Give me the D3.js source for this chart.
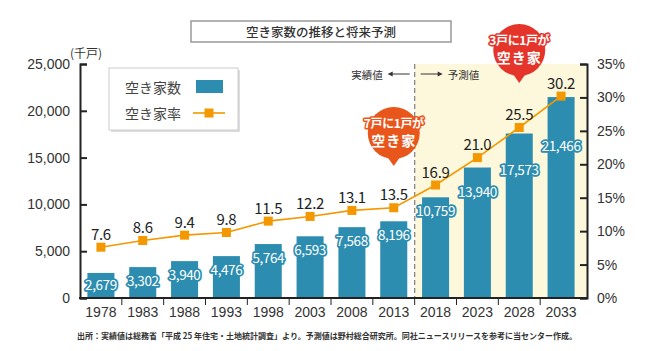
<!DOCTYPE html>
<meta charset="utf-8">
<style>
body { margin: 0; background: #fff; }
svg { font-family: "Noto Sans CJK JP", "Noto Sans", sans-serif; }
.axis path, .axis line { stroke: #222; }
.axis text { fill: #333; font-size: 14px; }
</style>
<body>
<script src="https://d3js.org/d3.v7.min.js"></script>
<script>

var years = ["1978", "1983", "1988", "1993", "1998", "2003", "2008", "2013", "2018", "2023", "2028", "2033"];
var houses = [2679, 3302, 3940, 4476, 5764, 6593, 7568, 8196, 10759, 13940, 17573, 21466];
var rates = [7.6, 8.6, 9.4, 9.8, 11.5, 12.2, 13.1, 13.5, 16.9, 21.0, 25.5, 30.2];
var firstForecast = "2018";
var houseTicks = [0, 5000, 10000, 15000, 20000, 25000];
var rateTicks = [0, 5, 10, 15, 20, 25, 30, 35];

var title = "空き家数の推移と将来予測";
var legendNames = ["空き家数", "空き家率"];
var unitLabel = "(千戸)";
var actualLabel = "実績値";
var forecastLabel = "予測値";
var bubbles = [
  {year: "2013", line1: "7戸に1戸が", line2: "空き家", color: "#e8561c"},
  {year: "2028", line1: "3戸に1戸が", line2: "空き家", color: "#e5352b"}
];
var source = "出所：実績値は総務省「平成 25 年住宅・土地統計調査」より。予測値は野村総合研究所。同社ニュースリリースを参考に当センター作成。";

var width = 651, height = 351;
var plotLeft = 80, plotRight = 582, axisRightX = 587, plotTop = 64, plotBottom = 298;
var barColor = "#2d8db0", lineColor = "#f39800";

var data = years.map((y, i) => ({year: y, houses: houses[i], rate: rates[i]}));

var svg = d3.select("body").append("svg")
    .attr("width", width)
    .attr("height", height);

var x = d3.scaleBand()
    .domain(years)
    .range([plotLeft, plotRight])
    .paddingInner(0.354)
    .paddingOuter(0.177);

var yL = d3.scaleLinear().domain([0, 25000]).range([plotBottom, plotTop]);
var yR = d3.scaleLinear().domain([0, 35]).range([plotBottom, plotTop]);

var step = x.step();
var divX = plotLeft + years.indexOf(firstForecast) * step;

// forecast background
svg.append("rect")
    .attr("x", divX).attr("y", plotTop)
    .attr("width", axisRightX - divX).attr("height", plotBottom - plotTop)
    .attr("fill", "#fdf8dc");

svg.append("line")
    .attr("x1", divX).attr("x2", divX)
    .attr("y1", plotTop).attr("y2", plotBottom)
    .attr("stroke", "#888").attr("stroke-width", 1.3)
    .attr("stroke-dasharray", "5,3");

// title box
svg.append("rect")
    .attr("x", 191).attr("y", 21).attr("width", 260).attr("height", 21)
    .attr("fill", "#fff").attr("stroke", "#999").attr("stroke-width", 1.5);
svg.append("text")
    .attr("x", 321).attr("y", 31.5)
    .attr("text-anchor", "middle").attr("dominant-baseline", "central")
    .attr("font-size", 12.5).attr("font-weight", 500).attr("fill", "#333")
    .text(title);

// bars
svg.selectAll(".bar")
    .data(data)
  .enter().append("rect")
    .attr("class", "bar")
    .attr("x", d => x(d.year))
    .attr("y", d => yL(d.houses))
    .attr("width", x.bandwidth())
    .attr("height", d => plotBottom - yL(d.houses))
    .attr("fill", barColor);

// axes
var axisL = d3.axisLeft(yL).tickValues(houseTicks).tickSize(-7).tickPadding(10)
    .tickFormat(d3.format(","));
var gL = svg.append("g").attr("class", "axis")
    .attr("transform", `translate(${plotLeft},0)`)
    .call(axisL);

var axisR = d3.axisRight(yR).tickValues(rateTicks).tickSize(-7).tickPadding(10)
    .tickFormat(d => d + "%");
var gR = svg.append("g").attr("class", "axis")
    .attr("transform", `translate(${axisRightX},0)`)
    .call(axisR);

var axisB = d3.axisBottom(x).tickSize(0).tickPadding(9);
var gB = svg.append("g").attr("class", "axis")
    .attr("transform", `translate(0,${plotBottom})`)
    .call(axisB);
gB.select(".domain").remove();
gB.selectAll(".boundary")
    .data(d3.range(1, years.length))
  .enter().append("line")
    .attr("x1", i => plotLeft + i * step).attr("x2", i => plotLeft + i * step)
    .attr("y1", 0).attr("y2", 7)
    .attr("stroke", "#222");

[gL, gR].forEach(g => g.select(".domain").attr("stroke-width", 2));
gL.selectAll(".tick line").attr("stroke-width", 2);
gR.selectAll(".tick line").attr("stroke-width", 2);

svg.append("line")
    .attr("x1", plotLeft - 1).attr("x2", axisRightX + 1)
    .attr("y1", plotBottom).attr("y2", plotBottom)
    .attr("stroke", "#222").attr("stroke-width", 2);

svg.append("text")
    .attr("x", 86).attr("y", 52)
    .attr("text-anchor", "middle").attr("dominant-baseline", "central")
    .attr("font-size", 12).attr("fill", "#333")
    .text(unitLabel);

// rate line
var cx = d => x(d.year) + x.bandwidth() / 2;
var line = d3.line().x(cx).y(d => yR(d.rate));

svg.append("path")
    .datum(data)
    .attr("d", line)
    .attr("fill", "none")
    .attr("stroke", lineColor)
    .attr("stroke-width", 1.6);

svg.selectAll(".marker")
    .data(data)
  .enter().append("rect")
    .attr("x", d => cx(d) - 4.5)
    .attr("y", d => yR(d.rate) - 4.5)
    .attr("width", 9).attr("height", 9)
    .attr("fill", lineColor);

svg.selectAll(".rate-label")
    .data(data)
  .enter().append("text")
    .attr("x", cx)
    .attr("y", d => yR(d.rate) - 14)
    .attr("text-anchor", "middle").attr("dominant-baseline", "central")
    .attr("font-size", 15).attr("letter-spacing", -0.3).attr("fill", "#222")
    .text(d => d3.format(".1f")(d.rate));

// bar value labels
var labelOffset = v => 13 + Math.max(0, v - 10759) * 0.0033;
svg.selectAll(".bar-label")
    .data(data)
  .enter().append("text")
    .attr("x", cx)
    .attr("y", d => Math.min(yL(d.houses) + labelOffset(d.houses), 284))
    .attr("text-anchor", "middle").attr("dominant-baseline", "central")
    .attr("font-size", 13.5).attr("letter-spacing", -0.4)
    .attr("fill", "#fff")
    .attr("stroke", barColor).attr("stroke-width", 3.5)
    .attr("stroke-linejoin", "round")
    .attr("paint-order", "stroke")
    .text(d => d3.format(",")(d.houses));

// actual / forecast marker
var tg = svg.append("g").attr("font-size", 10.5).attr("fill", "#333");
tg.append("text").attr("x", divX - 32).attr("y", 74)
    .attr("text-anchor", "end").attr("dominant-baseline", "central")
    .text(actualLabel);
tg.append("text").attr("x", divX + 33).attr("y", 74)
    .attr("dominant-baseline", "central")
    .text(forecastLabel);
[[divX - 5, divX - 25], [divX + 6, divX + 26]].forEach(p => {
  svg.append("line")
      .attr("x1", p[0]).attr("x2", p[1]).attr("y1", 74).attr("y2", 74)
      .attr("stroke", "#333").attr("stroke-width", 1);
  var dir = p[1] > p[0] ? 1 : -1;
  svg.append("path")
      .attr("d", `M${p[1] + dir * 2},74 L${p[1] - dir * 3},71.5 L${p[1] - dir * 3},76.5 Z`)
      .attr("fill", "#333");
});

// legend
svg.append("rect")
    .attr("x", 111).attr("y", 70).attr("width", 129).attr("height", 62)
    .attr("fill", "#ddd");
svg.append("rect")
    .attr("x", 109).attr("y", 68).attr("width", 129).attr("height", 62)
    .attr("fill", "#fff").attr("stroke", "#ccc");
svg.selectAll(".legend-text")
    .data(legendNames)
  .enter().append("text")
    .attr("x", 125)
    .attr("y", (d, i) => 87 + i * 26)
    .attr("dominant-baseline", "central")
    .attr("font-size", 14).attr("fill", "#444")
    .text(d => d);
svg.append("rect")
    .attr("x", 196).attr("y", 80).attr("width", 27).attr("height", 13)
    .attr("fill", barColor);
svg.append("line")
    .attr("x1", 193).attr("x2", 225).attr("y1", 113).attr("y2", 113)
    .attr("stroke", lineColor).attr("stroke-width", 1.6);
svg.append("rect")
    .attr("x", 204.5).attr("y", 108.5).attr("width", 9).attr("height", 9)
    .attr("fill", lineColor);

// speech bubbles
var bubbleY = [133, 50];
bubbles.forEach((b, i) => {
  var bx = x(b.year) + x.bandwidth() / 2, by = bubbleY[i], r = 26;
  var g = svg.append("g");
  g.append("circle").attr("cx", bx).attr("cy", by).attr("r", r).attr("fill", b.color);
  g.append("path")
      .attr("d", `M${bx - 7},${by + r - 3} L${bx},${by + r + 7} L${bx + 7},${by + r - 3} Z`)
      .attr("fill", b.color);
  g.append("text")
      .attr("x", bx).attr("y", by - 11)
      .attr("text-anchor", "middle").attr("dominant-baseline", "central")
      .attr("font-size", 12).attr("font-weight", "bold").attr("letter-spacing", -0.4)
      .attr("fill", "#fff").attr("stroke", b.color).attr("stroke-width", 3)
      .attr("stroke-linejoin", "round").attr("paint-order", "stroke")
      .text(b.line1);
  g.append("text")
      .attr("x", bx).attr("y", by + 7)
      .attr("text-anchor", "middle").attr("dominant-baseline", "central")
      .attr("font-size", 14).attr("font-weight", "bold").attr("letter-spacing", 1)
      .attr("fill", "#fff")
      .text(b.line2);
});

// source note
svg.append("text")
    .attr("x", 77).attr("y", 335)
    .attr("dominant-baseline", "central")
    .attr("font-size", 8.2).attr("font-weight", "bold").attr("fill", "#333")
    .attr("textLength", 500).attr("lengthAdjust", "spacingAndGlyphs")
    .text(source);

</script>
